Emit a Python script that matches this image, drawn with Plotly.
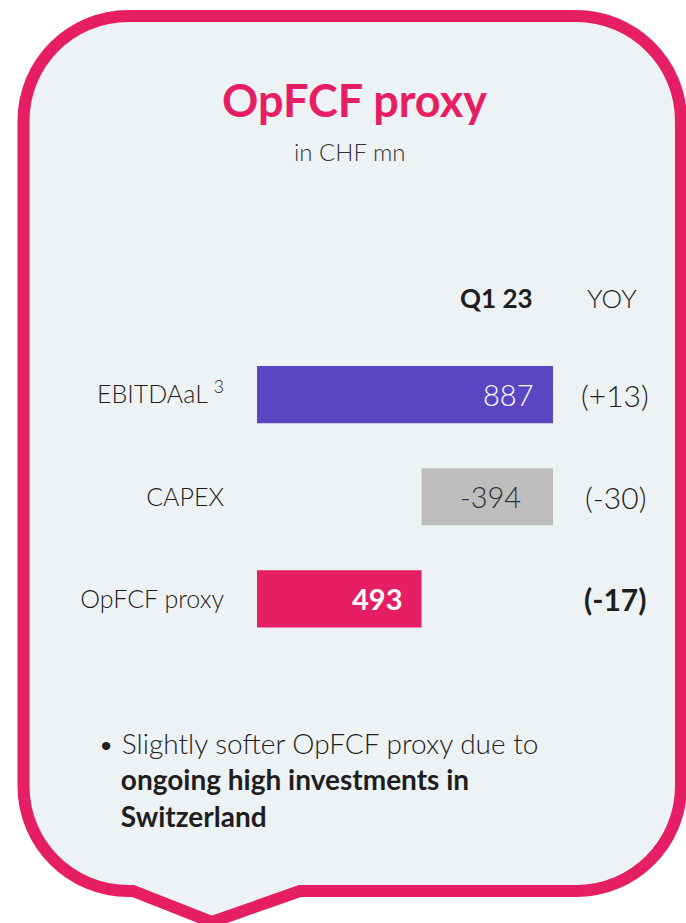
import plotly.graph_objects as go

# data
categories = ["EBITDAaL <sup>3</sup>", "CAPEX", "OpFCF proxy"]
values = [887, -394, 493]
bases = [0, 887, 0]
value_labels = ["887", "-394", "493"]
yoy_labels = ["(+13)", "(-30)", "<b>(-17)</b>"]
period_label = "Q1 23"
yoy_header = "YOY"

PINK = "#E61E64"
PURPLE = "#5A45C3"
GREY = "#BEBEBE"
BG = "#EDF2F5"
INK = "#1E1E1E"
bar_colors = [PURPLE, GREY, PINK]
text_colors = ["white", "#333333", "white"]

W, H = 686, 923


def px(x, y):
    # page pixels -> paper coords
    return x / W, 1 - y / H


def bubble_path(left, top, right, bottom, r, tip_l, tip_x, tip_r, tip_y):
    k = 0.5523 * r

    def p(x, y):
        a, b = px(x, y)
        return f"{a:.5f},{b:.5f}"
    d = f"M{p(left + r, top)} L{p(right - r, top)} "
    d += f"C{p(right - r + k, top)} {p(right, top + r - k)} {p(right, top + r)} "
    d += f"L{p(right, bottom - r)} "
    d += f"C{p(right, bottom - r + k)} {p(right - r + k, bottom)} {p(right - r, bottom)} "
    d += f"L{p(tip_r, bottom)} L{p(tip_x, tip_y)} L{p(tip_l, bottom)} "
    d += f"L{p(left + r, bottom)} "
    d += f"C{p(left + r - k, bottom)} {p(left, bottom - r + k)} {p(left, bottom - r)} "
    d += f"L{p(left, top + r)} "
    d += f"C{p(left, top + r - k)} {p(left + r - k, top)} {p(left + r, top)} Z"
    return d


def label(x, y, text, size, color=INK, weight=300, anchor="center"):
    fig.add_annotation(x=px(x, 0)[0], y=px(0, y)[1], xref="paper", yref="paper",
                       text=text, showarrow=False, xanchor=anchor, yanchor="middle",
                       font=dict(size=size, color=color, family="Lato", weight=weight))


fig = go.Figure()

fig.add_trace(go.Bar(
    y=categories,
    x=values,
    base=bases,
    orientation="h",
    marker=dict(color=bar_colors, line=dict(width=0)),
    width=0.56,
    hoverinfo="skip",
))

# value labels inside the bars
for i, (cat, v, b, lab) in enumerate(zip(categories, values, bases, value_labels)):
    end = b + v
    if v < 0:
        ax, anchor, shift = b + v / 2, "center", 3
    else:
        ax, anchor, shift = end, "right", -18
    fig.add_annotation(
        x=ax, y=cat, xref="x", yref="y", text=f"<b>{lab}</b>" if i == 2 else lab,
        showarrow=False, xanchor=anchor, yanchor="middle", xshift=shift,
        font=dict(size=29, color=text_colors[i], family="Lato",
                  weight=700 if i == 2 else 300),
    )

# YOY column
for cat, lab in zip(categories, yoy_labels):
    fig.add_annotation(
        x=615 / W, y=cat, xref="paper", yref="y", text=lab, showarrow=False,
        xanchor="center", yanchor="middle",
        font=dict(size=30, color=INK, family="Lato", weight=300),
    )

# headers, title
label(535, 298, f"<b>{period_label}</b>", 26, weight=400, anchor="right")
label(612, 298, yoy_header, 26)
label(354, 100, "<b>OpFCF proxy</b>", 45, color=PINK, weight=400)
label(349, 152, "in CHF mn", 24, color="#333333")

# bullet text
fig.add_annotation(
    x=px(96, 0)[0], y=px(0, 779)[1], xref="paper", yref="paper", showarrow=False,
    xanchor="left", yanchor="middle", align="left",
    text="• Slightly softer OpFCF proxy due to<br>"
         "&nbsp;&nbsp;&nbsp;<b>ongoing high investments in</b><br>"
         "&nbsp;&nbsp;&nbsp;<b>Switzerland</b>",
    font=dict(size=28, color=INK, family="Lato", weight=300),
)

# speech bubble frame
fig.add_shape(
    type="path", xref="paper", yref="paper", layer="below",
    path=bubble_path(23.5, 16, 681, 891, 105, 133, 212, 300, 922),
    fillcolor=BG, line=dict(color=PINK, width=12),
)

y_top, y_bot = 343.5, 650
fig.update_layout(
    width=W, height=H,
    margin=dict(l=0, r=0, t=0, b=0),
    paper_bgcolor="white", plot_bgcolor="rgba(0,0,0,0)",
    showlegend=False,
    font=dict(family="Lato", color=INK),
    xaxis=dict(domain=[257 / W, 553 / W], range=[0, 887], visible=False,
               fixedrange=True),
    yaxis=dict(domain=[1 - y_bot / H, 1 - y_top / H], autorange="reversed",
               showgrid=False, zeroline=False, showline=False, ticks="",
               ticklabelstandoff=32, fixedrange=True,
               tickfont=dict(size=25, color=INK, family="Lato", weight=300)),
)

fig.write_html("out.html", config={"displayModeBar": False},
               post_script="document.body.style.margin='0';")
